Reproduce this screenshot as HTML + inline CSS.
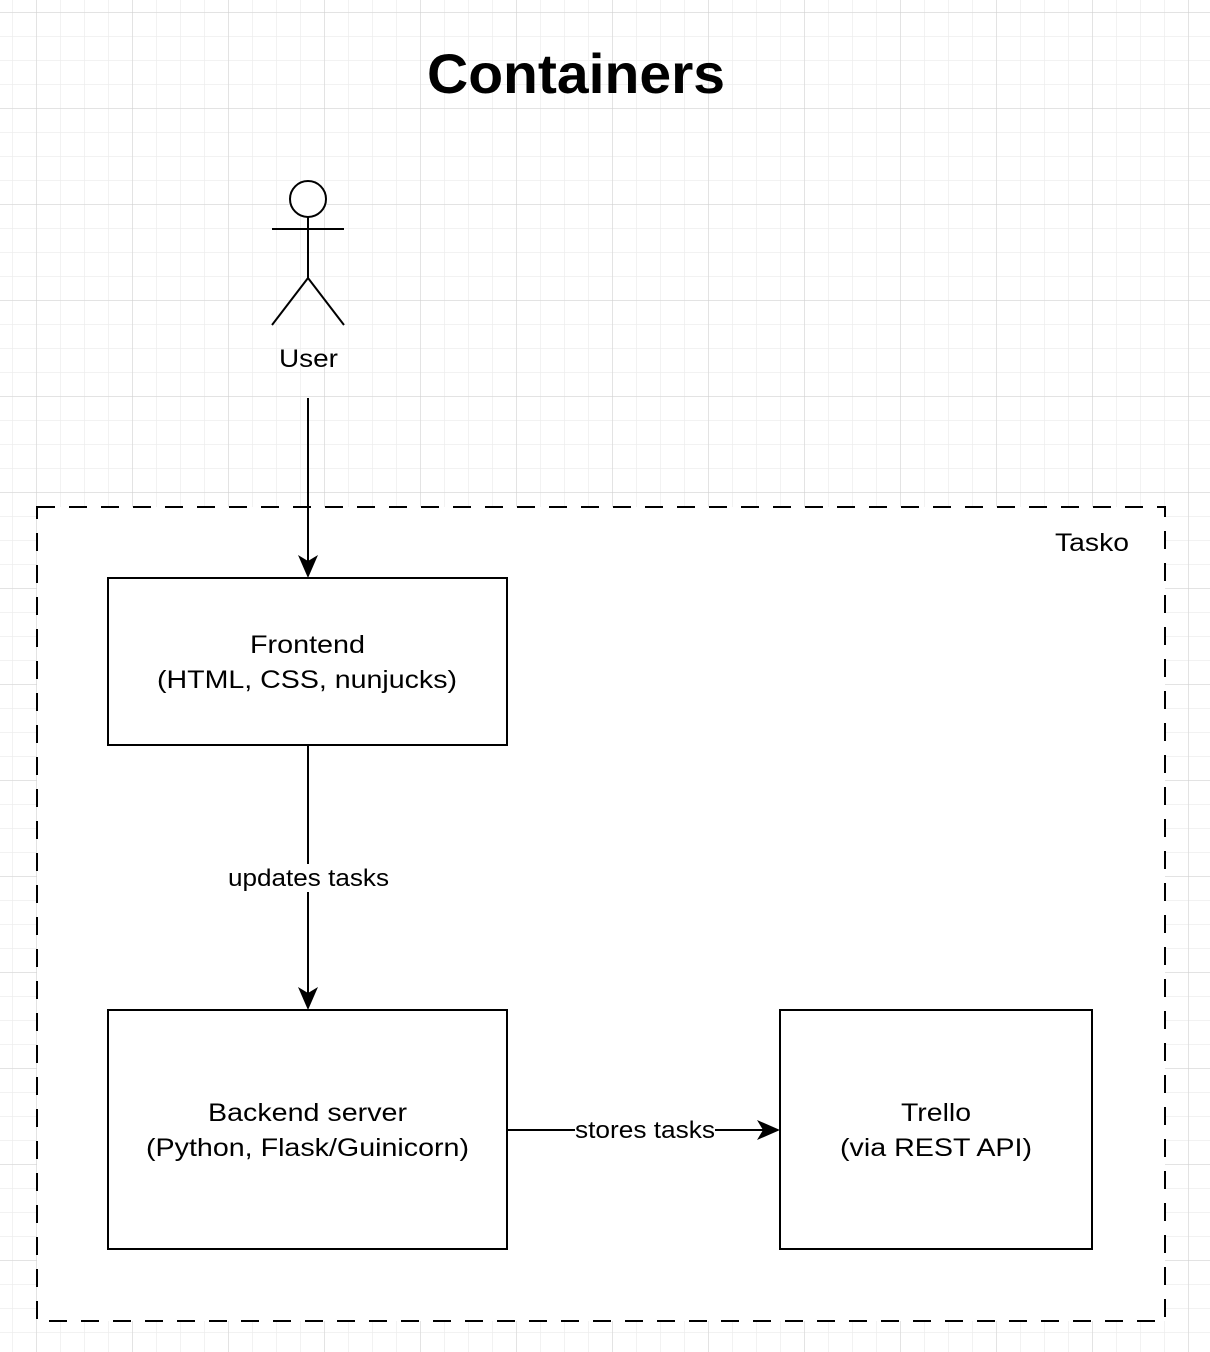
<!DOCTYPE html>
<html><head><meta charset="utf-8"><style>
html,body{margin:0;padding:0;background:#fff}
svg{display:block}
text{font-family:"Liberation Sans",Helvetica,Arial,sans-serif;fill:#000}
</style></head><body>
<svg width="1210" height="1352" viewBox="0 0 1210 1352" xmlns="http://www.w3.org/2000/svg">
<defs>
<pattern id="minor" width="24" height="24" patternUnits="userSpaceOnUse" x="12" y="12">
<path d="M0 0H24M0 0V24" stroke="#ededed" stroke-width="1.5" fill="none"/>
</pattern>
<pattern id="major" width="96" height="96" patternUnits="userSpaceOnUse" x="36" y="12">
<path d="M0 0H96M0 0V96" stroke="#d0d0d0" stroke-width="1" fill="none"/>
</pattern>
</defs>
<rect width="1210" height="1352" fill="url(#minor)"/>
<rect width="1210" height="1352" fill="url(#major)"/>
<text x="427" y="93" font-size="56" font-weight="bold" textLength="298" lengthAdjust="spacingAndGlyphs">Containers</text>
<circle cx="308" cy="199" r="18" fill="#fff" stroke="#000" stroke-width="2"/>
<path d="M308 217V278M272 229H344M308 278L272 325M308 278L344 325" stroke="#000" stroke-width="2" fill="none"/>
<text x="279" y="367" font-size="25" textLength="59" lengthAdjust="spacingAndGlyphs">User</text>
<rect x="37" y="507" width="1128" height="814" fill="#fff" stroke="#000" stroke-width="2" stroke-dasharray="18 14"/>
<text x="1055" y="551" font-size="25" textLength="74" lengthAdjust="spacingAndGlyphs">Tasko</text>
<path d="M308 398V570" stroke="#000" stroke-width="2"/>
<path d="M298 555L308 578L318 555L308 561Z" fill="#000"/>
<rect x="108" y="578" width="399" height="167" fill="#fff" stroke="#000" stroke-width="2"/>
<text x="250" y="653" font-size="25" textLength="115" lengthAdjust="spacingAndGlyphs">Frontend</text>
<text x="157" y="688" font-size="25" textLength="300" lengthAdjust="spacingAndGlyphs">(HTML, CSS, nunjucks)</text>
<path d="M308 745V1002" stroke="#000" stroke-width="2"/>
<path d="M298 987L308 1010L318 987L308 993Z" fill="#000"/>
<rect x="226" y="864" width="165" height="28" fill="#fff"/>
<text x="228" y="886" font-size="24" textLength="161" lengthAdjust="spacingAndGlyphs">updates tasks</text>
<rect x="108" y="1010" width="399" height="239" fill="#fff" stroke="#000" stroke-width="2"/>
<text x="208" y="1121" font-size="25" textLength="199" lengthAdjust="spacingAndGlyphs">Backend server</text>
<text x="146" y="1156" font-size="25" textLength="323" lengthAdjust="spacingAndGlyphs">(Python, Flask/Guinicorn)</text>
<path d="M507 1130H772" stroke="#000" stroke-width="2"/>
<path d="M757 1120L780 1130L757 1140L763 1130Z" fill="#000"/>
<rect x="575" y="1117" width="140" height="26" fill="#fff"/>
<text x="575" y="1138" font-size="24" textLength="140" lengthAdjust="spacingAndGlyphs">stores tasks</text>
<rect x="780" y="1010" width="312" height="239" fill="#fff" stroke="#000" stroke-width="2"/>
<text x="901" y="1121" font-size="25" textLength="70" lengthAdjust="spacingAndGlyphs">Trello</text>
<text x="840" y="1156" font-size="25" textLength="192" lengthAdjust="spacingAndGlyphs">(via REST API)</text>
</svg>
</body></html>
